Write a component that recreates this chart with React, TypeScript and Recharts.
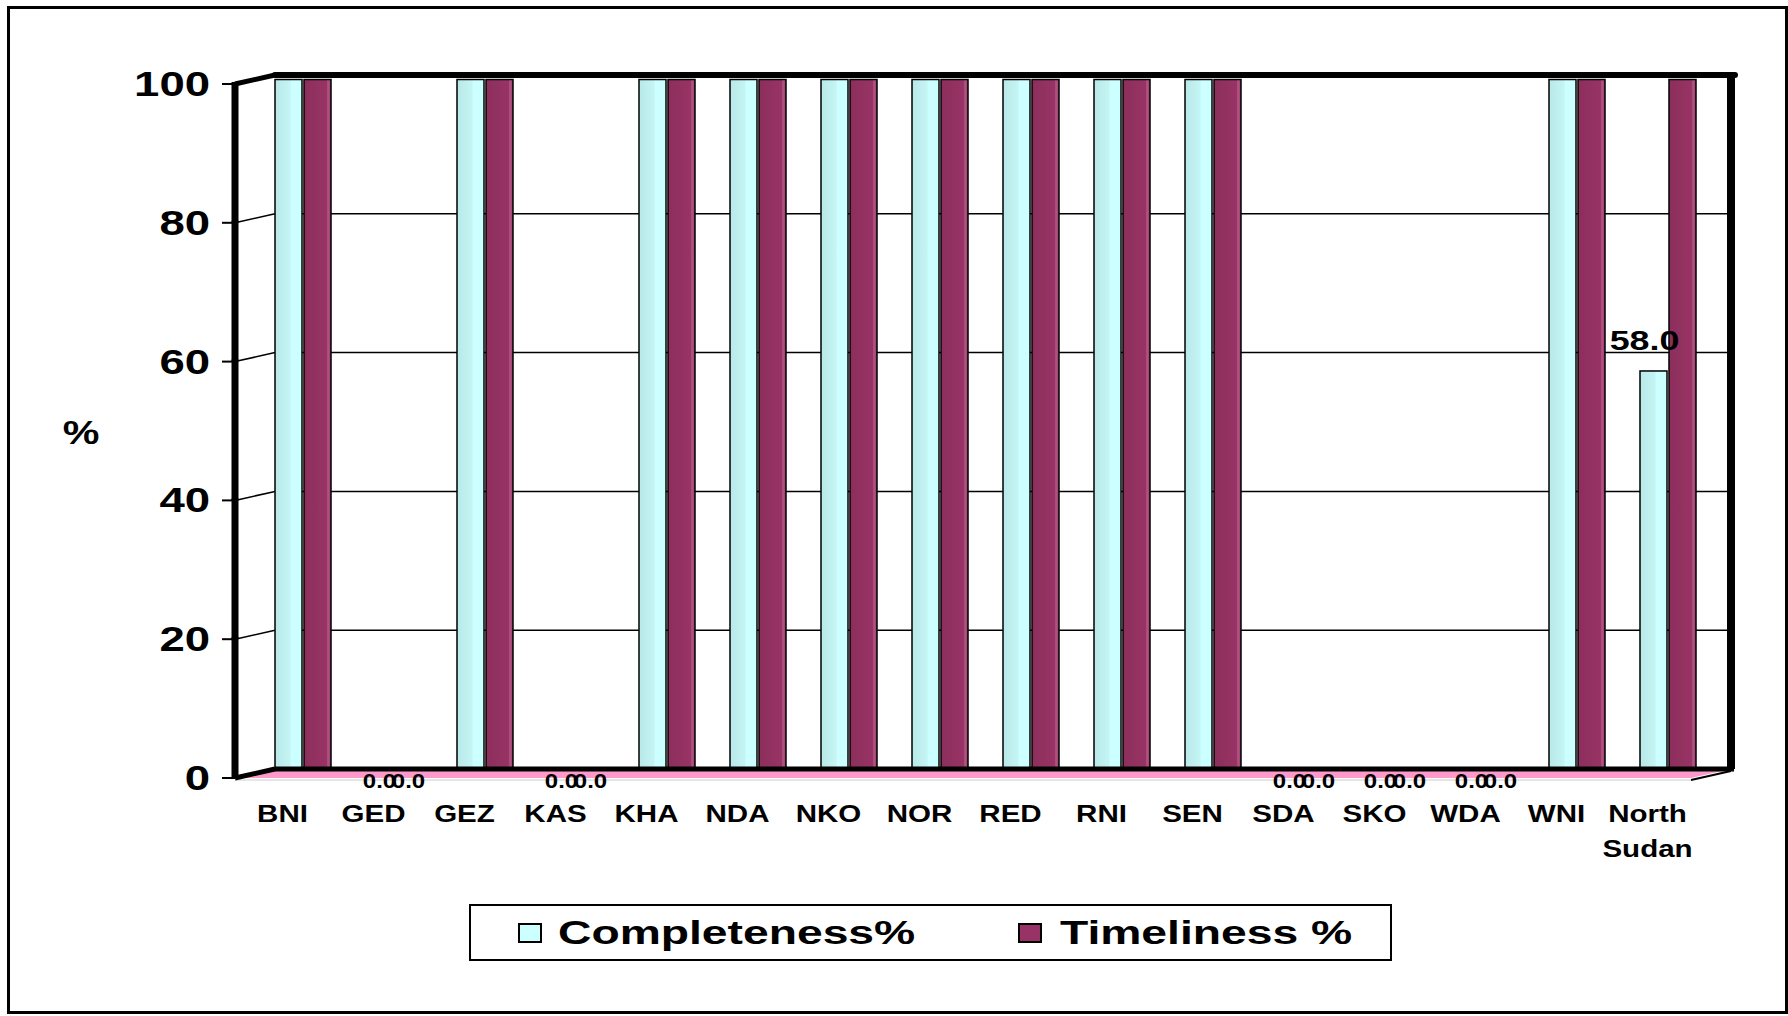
import { BarChart, Bar, XAxis, YAxis, CartesianGrid, Legend, LabelList } from "recharts";

const categories = ["BNI", "GED", "GEZ", "KAS", "KHA", "NDA", "NKO", "NOR", "RED", "RNI", "SEN", "SDA", "SKO", "WDA", "WNI", "North Sudan"];
const completeness = [100, 0, 100, 0, 100, 100, 100, 100, 100, 100, 100, 0, 0, 0, 100, 58];
const timeliness = [100, 0, 100, 0, 100, 100, 100, 100, 100, 100, 100, 0, 0, 0, 100, 100];
const yTicks = [0, 20, 40, 60, 80, 100];

const data = categories.map((name, i) => ({
  name,
  completeness: completeness[i],
  timeliness: timeliness[i],
}));

const W = 1788;
const H = 1016;
// back wall of the 3d box
const PLOT_LEFT = 275;
const PLOT_RIGHT = 1731;
const PLOT_TOP = 75;
const PLOT_BOTTOM = 769;
// front plane offset
const DEPTH_X = 40;
const DEPTH_Y = 9;
// bars sit half way in depth
const BAR_DX = -18;
const BAR_DY = 4.5;

const FONT = "'Liberation Sans', Arial, sans-serif";
const CYAN = "#CCFFFF";
const MAROON = "#993366";

// text stretched sideways like the original export
const SText = ({ x, y, sx, size, anchor = "middle", children }: any) => (
  <text
    transform={`translate(${x},${y}) scale(${sx},1)`}
    x={0}
    y={0}
    textAnchor={anchor}
    fontFamily={FONT}
    fontWeight="bold"
    fontSize={size}
    fill="#000"
  >
    {children}
  </text>
);

const Column = (props: any) => {
  const { x, y, width, height, grad } = props;
  if (!height || height <= 0) return null;
  return (
    <rect
      x={x + BAR_DX}
      y={y + BAR_DY}
      width={width}
      height={height}
      fill={`url(#${grad})`}
      stroke="#000"
      strokeWidth={1.5}
    />
  );
};

const FrontTick = (props: any) => {
  const { y, payload } = props;
  const v = payload.value;
  const fx = PLOT_LEFT - DEPTH_X;
  const fy = y + DEPTH_Y;
  const edge = v === 0 || v === 100;
  const step = (PLOT_BOTTOM - PLOT_TOP) / (yTicks.length - 1);
  return (
    <g>
      {v === 0 && (
        <>
          <polygon
            points={`${PLOT_LEFT},${y} ${PLOT_RIGHT},${y} ${PLOT_RIGHT - DEPTH_X},${fy} ${fx},${fy}`}
            fill="#FF99CC"
          />
          <line x1={PLOT_RIGHT - DEPTH_X} y1={fy + 2} x2={PLOT_RIGHT} y2={y + 2} stroke="#000" strokeWidth={2} />
          <line x1={fx} y1={fy + 2} x2={PLOT_RIGHT - DEPTH_X} y2={fy + 2} stroke="#e6e6e6" strokeWidth={2} />
          <line x1={PLOT_LEFT} y1={y} x2={PLOT_RIGHT + 3} y2={y} stroke="#000" strokeWidth={5} />
        </>
      )}
      {v === 100 && (
        <>
          <line x1={PLOT_LEFT} y1={y} x2={PLOT_RIGHT + 4} y2={y} stroke="#000" strokeWidth={6} strokeLinecap="round" />
          <line x1={PLOT_RIGHT} y1={y} x2={PLOT_RIGHT} y2={y + step * (yTicks.length - 1)} stroke="#000" strokeWidth={8} />
        </>
      )}
      <line x1={fx} y1={fy} x2={PLOT_LEFT} y2={y} stroke="#000" strokeWidth={edge ? 5 : 1.5} />
      {v !== 0 && <line x1={fx} y1={fy - 2} x2={fx} y2={fy + step} stroke="#000" strokeWidth={7} />}
      <line x1={fx - 13} y1={fy} x2={fx} y2={fy} stroke="#000" strokeWidth={2} />
      <SText x={210} y={fy + 12} sx={1.3} size={35} anchor="end">
        {v}
      </SText>
    </g>
  );
};

const CatTick = (props: any) => {
  const { x, payload } = props;
  const lines = String(payload.value).split(" ");
  return (
    <SText x={x - 38} y={PLOT_BOTTOM + 53} sx={1.23} size={24}>
      {lines.map((l, i) => (
        <tspan key={i} x={0} dy={i === 0 ? 0 : 35}>
          {l}
        </tspan>
      ))}
    </SText>
  );
};

const valueLabel = (props: any) => {
  const vb = props.viewBox || {};
  const x = props.x ?? vb.x;
  const y = props.y ?? vb.y;
  const width = props.width ?? vb.width;
  const value = Number(props.value);
  if (value >= 100 || x == null) return null;
  const cx = x + width / 2 + BAR_DX;
  if (value === 0) {
    return (
      <SText x={cx} y={y + BAR_DY + 14} sx={1.2} size={20}>
        {value.toFixed(1)}
      </SText>
    );
  }
  return (
    <SText x={cx - 9} y={y + BAR_DY - 21} sx={1.28} size={28}>
      {value.toFixed(1)}
    </SText>
  );
};

const LegendBox = () => {
  const sq = (left: number, color: string) => (
    <div
      style={{
        position: "absolute",
        left,
        top: 17,
        width: 24,
        height: 20,
        boxSizing: "border-box",
        border: "2px solid #000",
        background: color,
      }}
    />
  );
  const txt = (left: number, s: string) => (
    <span
      style={{
        position: "absolute",
        left,
        top: 9,
        lineHeight: "35px",
        whiteSpace: "nowrap",
        transform: "scaleX(1.36)",
        transformOrigin: "left center",
      }}
    >
      {s}
    </span>
  );
  return (
    <div
      style={{
        position: "relative",
        width: 923,
        height: 57,
        boxSizing: "border-box",
        border: "2px solid #000",
        background: "#fff",
        fontFamily: FONT,
        fontWeight: "bold",
        fontSize: 34,
        color: "#000",
      }}
    >
      {sq(47, CYAN)}
      {txt(87, "Completeness%")}
      {sq(547, MAROON)}
      {txt(589, "Timeliness %")}
    </div>
  );
};

export default function App() {
  return (
    <div style={{ position: "absolute", left: 0, top: 0, width: W, height: H, background: "#fff" }}>
      <svg width={0} height={0} style={{ position: "absolute" }}>
        <defs>
          <linearGradient id="gCyan" x1="0" y1="0" x2="1" y2="0">
            <stop offset="0%" stopColor="#B8E8E8" />
            <stop offset="55%" stopColor="#C4F4F4" />
            <stop offset="60%" stopColor={CYAN} />
            <stop offset="100%" stopColor={CYAN} />
          </linearGradient>
          <linearGradient id="gMaroon" x1="0" y1="0" x2="1" y2="0">
            <stop offset="0%" stopColor="#8C2E5C" />
            <stop offset="50%" stopColor="#933260" />
            <stop offset="85%" stopColor={MAROON} />
            <stop offset="88%" stopColor="#B35A85" />
            <stop offset="100%" stopColor="#9A3868" />
          </linearGradient>
        </defs>
      </svg>
      <div
        style={{
          position: "absolute",
          left: 7,
          top: 6,
          width: 1781,
          height: 1008,
          boxSizing: "border-box",
          border: "3px solid #000",
        }}
      />
      <div style={{ position: "absolute", left: 0, top: 0 }}>
        <BarChart
          width={W}
          height={H}
          data={data}
          margin={{ top: PLOT_TOP, right: W - PLOT_RIGHT, left: 0, bottom: 55 }}
          barSize={27}
          barGap={2}
        >
          <CartesianGrid horizontal vertical={false} stroke="#000" strokeWidth={1.5} />
          <YAxis
            domain={[0, 100]}
            ticks={yTicks}
            interval={0}
            width={PLOT_LEFT}
            axisLine={false}
            tickLine={false}
            tick={<FrontTick />}
            label={{
              value: "%",
              content: () => (
                <SText x={81} y={444} sx={1.25} size={33}>
                  %
                </SText>
              ),
            }}
          />
          <XAxis
            dataKey="name"
            interval={0}
            height={135}
            tickLine={false}
            axisLine={false}
            tick={<CatTick />}
          />
          <Bar
            dataKey="completeness"
            name="Completeness%"
            fill={CYAN}
            isAnimationActive={false}
            shape={(p: any) => <Column {...p} grad="gCyan" />}
          >
            <LabelList dataKey="completeness" content={valueLabel} />
          </Bar>
          <Bar
            dataKey="timeliness"
            name="Timeliness %"
            fill={MAROON}
            isAnimationActive={false}
            shape={(p: any) => <Column {...p} grad="gMaroon" />}
          >
            <LabelList dataKey="timeliness" content={valueLabel} />
          </Bar>
          <Legend
            verticalAlign="bottom"
            content={<LegendBox />}
            wrapperStyle={{ left: 469, bottom: 55, width: 923, height: 57 }}
          />
        </BarChart>
      </div>
    </div>
  );
}
